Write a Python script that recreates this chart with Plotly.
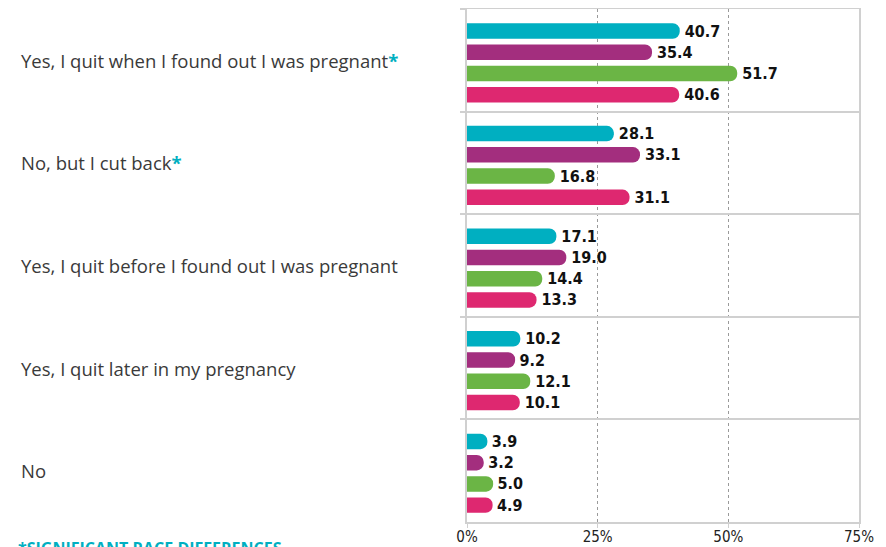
import plotly.graph_objects as go

categories = [
    "Yes, I quit when I found out I was pregnant",
    "No, but I cut back",
    "Yes, I quit before I found out I was pregnant",
    "Yes, I quit later in my pregnancy",
    "No",
]
significant = [True, True, False, False, False]

series_names = ["Group 1", "Group 2", "Group 3", "Group 4"]
group1 = [40.7, 28.1, 17.1, 10.2, 3.9]
group2 = [35.4, 33.1, 19.0, 9.2, 3.2]
group3 = [51.7, 16.8, 14.4, 12.1, 5.0]
group4 = [40.6, 31.1, 13.3, 10.1, 4.9]
series_values = [group1, group2, group3, group4]
colors = ["#00AFC1", "#A32E7E", "#6BB545", "#DE2870"]

x_ticks = [0, 25, 50, 75]
x_tick_labels = ["0%", "25%", "50%", "75%"]
footnote = "*SIGNIFICANT RACE DIFFERENCES"

TEAL = "#00AFC1"
GRID = "#d0d0d0"
COND = "DejaVu Sans, sans-serif"

PLOT_W, PLOT_H = 392, 513
BAR_W = 0.151      # bar thickness in category units
BAR_STEP = 0.207   # spacing between bar centres in a group
GROUP_SHIFT = 0.025

fig = go.Figure()
n = len(series_names)
for i, (name, vals, col) in enumerate(zip(series_names, series_values, colors)):
    centre = (i - (n - 1) / 2) * BAR_STEP + GROUP_SHIFT
    fig.add_trace(go.Bar(
        y=categories, x=vals, name=name, orientation="h",
        width=BAR_W, offset=centre - BAR_W / 2,
        marker=dict(color=col, line=dict(width=0)),
        texttemplate="%{x:.1f}", textposition="outside", constraintext="none",
        textfont=dict(family=COND, size=16, color="#111111", weight="bold"),
        cliponaxis=False, showlegend=False,
    ))

annotations = []
for cat, sig in zip(categories, significant):
    txt = cat
    if sig:
        txt += "<span style='color:%s'><b>*</b></span>" % TEAL
    annotations.append(dict(
        x=-448 / PLOT_W, xref="paper", y=cat, yref="y",
        text=txt, showarrow=False, xanchor="left", yanchor="middle",
        font=dict(family="Open Sans, sans-serif", size=18.5, color="#3a3a3a"),
    ))
annotations.append(dict(
    x=-451 / PLOT_W, xref="paper", y=-13 / PLOT_H, yref="paper",
    text="<b>%s</b>" % footnote, showarrow=False, xanchor="left", yanchor="top",
    font=dict(family="Open Sans, sans-serif", size=16, color=TEAL),
))

fig.update_layout(
    width=878, height=539,
    margin=dict(l=459, r=27, t=1, b=25),
    paper_bgcolor="white", plot_bgcolor="white",
    barmode="overlay",
    barcornerradius=8,
    annotations=annotations,
    xaxis=dict(
        range=[0, 75], tickmode="array", tickvals=x_ticks, ticktext=x_tick_labels,
        showgrid=True, gridcolor="#9a9a9a", griddash="dot", gridwidth=1,
        showline=True, linecolor=GRID, linewidth=2, mirror=True,
        ticks="outside", ticklen=4, tickcolor=GRID, tickwidth=1,
        ticklabelstandoff=-4,
        tickfont=dict(family=COND, size=15, color="#222222"),
        zeroline=False, fixedrange=True, automargin=False,
    ),
    yaxis=dict(
        type="category", autorange="reversed",
        tickson="boundaries", showgrid=True, gridcolor=GRID, gridwidth=2,
        ticks="outside", ticklen=5, tickcolor=GRID, tickwidth=2,
        showticklabels=False,
        showline=True, linecolor=GRID, linewidth=2, mirror=True,
        fixedrange=True, automargin=False,
    ),
)

post_js = (
    "var s=document.createElement('style');"
    "s.textContent='.bartext, .xtick text {font-stretch: condensed !important;}';"
    "document.head.appendChild(s);"
)

fig.write_html("out.html", post_script=post_js)
